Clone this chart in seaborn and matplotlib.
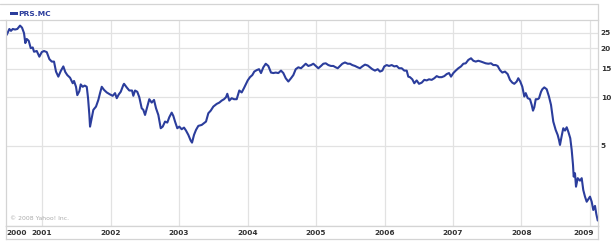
import numpy as np
import pandas as pd
import seaborn as sns
import matplotlib
matplotlib.use("Agg")
import matplotlib.pyplot as plt
from matplotlib.lines import Line2D
from matplotlib.patches import Rectangle

# ---- data (decimal year, price) ----
t = [2000.485, 2000.523, 2000.547, 2000.572, 2000.606, 2000.639, 2000.679, 2000.708, 2000.737, 2000.756,
     2000.777, 2000.806, 2000.835, 2000.864, 2000.883, 2000.923, 2000.961, 2000.996, 2001.029, 2001.069,
     2001.107, 2001.142, 2001.175, 2001.204, 2001.238, 2001.273, 2001.311, 2001.340, 2001.369, 2001.409,
     2001.448, 2001.467, 2001.496, 2001.515, 2001.545, 2001.565, 2001.594, 2001.623, 2001.653, 2001.672,
     2001.691, 2001.701, 2001.726, 2001.749, 2001.788, 2001.822, 2001.847, 2001.872, 2001.905, 2001.945,
     2001.993, 2002.032, 2002.066, 2002.091, 2002.120, 2002.149, 2002.187, 2002.197, 2002.236, 2002.274,
     2002.314, 2002.333, 2002.358, 2002.391, 2002.420, 2002.455, 2002.479, 2002.504, 2002.537, 2002.566,
     2002.601, 2002.635, 2002.664, 2002.698, 2002.733, 2002.762, 2002.796, 2002.829, 2002.858, 2002.893,
     2002.917, 2002.942, 2002.975, 2003.004, 2003.039, 2003.073, 2003.102, 2003.136, 2003.171, 2003.190,
     2003.219, 2003.248, 2003.282, 2003.331, 2003.365, 2003.394, 2003.428, 2003.463, 2003.501, 2003.550,
     2003.588, 2003.623, 2003.657, 2003.686, 2003.705, 2003.734, 2003.769, 2003.803, 2003.842, 2003.880,
     2003.915, 2003.949, 2004.003, 2004.036, 2004.070, 2004.099, 2004.134, 2004.168, 2004.197, 2004.231,
     2004.266, 2004.304, 2004.343, 2004.377, 2004.412, 2004.450, 2004.489, 2004.523, 2004.558, 2004.596,
     2004.635, 2004.669, 2004.704, 2004.742, 2004.781, 2004.815, 2004.850, 2004.888, 2004.927, 2004.961,
     2004.996, 2005.034, 2005.073, 2005.107, 2005.142, 2005.180, 2005.219, 2005.253, 2005.288, 2005.317,
     2005.350, 2005.384, 2005.423, 2005.463, 2005.496, 2005.530, 2005.569, 2005.609, 2005.642, 2005.676,
     2005.715, 2005.755, 2005.788, 2005.822, 2005.861, 2005.901, 2005.934, 2005.968, 2005.997, 2006.032,
     2006.066, 2006.105, 2006.143, 2006.178, 2006.212, 2006.251, 2006.289, 2006.324, 2006.347, 2006.372,
     2006.406, 2006.435, 2006.470, 2006.504, 2006.543, 2006.581, 2006.616, 2006.650, 2006.689, 2006.727,
     2006.762, 2006.796, 2006.835, 2006.873, 2006.908, 2006.942, 2006.971, 2007.005, 2007.040, 2007.078,
     2007.117, 2007.151, 2007.186, 2007.224, 2007.263, 2007.297, 2007.332, 2007.369, 2007.409, 2007.442,
     2007.477, 2007.515, 2007.555, 2007.588, 2007.623, 2007.652, 2007.686, 2007.720, 2007.759, 2007.798,
     2007.832, 2007.866, 2007.895, 2007.930, 2007.953, 2007.982, 2008.012, 2008.041, 2008.062, 2008.091,
     2008.124, 2008.149, 2008.168, 2008.187, 2008.208, 2008.237, 2008.256, 2008.285, 2008.304, 2008.333,
     2008.368, 2008.401, 2008.431, 2008.464, 2008.499, 2008.528, 2008.547, 2008.562, 2008.587, 2008.610,
     2008.635, 2008.660, 2008.683, 2008.712, 2008.733, 2008.752, 2008.762, 2008.781, 2008.796, 2008.821,
     2008.854, 2008.879, 2008.902, 2008.927, 2008.952, 2008.975, 2009.000, 2009.025, 2009.048, 2009.073,
     2009.092, 2009.113]

price = [24.3, 26.4, 25.7, 26.4, 26.2, 26.4, 27.7, 26.9, 24.9, 21.6,
         22.9, 22.3, 20.1, 20.3, 19.1, 19.3, 17.8, 19.0, 19.3, 19.0,
         17.2, 16.6, 16.6, 14.4, 13.4, 14.5, 15.5, 14.3, 13.7, 13.2,
         12.2, 12.6, 11.6, 10.3, 10.9, 12.0, 11.6, 11.8, 11.6, 9.86,
         7.77, 6.58, 7.42, 8.35, 8.75, 9.62, 10.6, 11.6, 11.1, 10.7,
         10.4, 10.2, 10.6, 9.86, 10.4, 10.8, 11.9, 12.1, 11.5, 11.0,
         11.0, 10.2, 11.0, 10.8, 10.0, 8.55, 8.35, 7.77, 8.75, 9.72,
         9.26, 9.62, 8.55, 7.77, 6.43, 6.58, 7.07, 6.97, 7.52, 8.03,
         7.66, 7.07, 6.43, 6.58, 6.34, 6.49, 6.22, 5.85, 5.39, 5.24,
         5.85, 6.28, 6.65, 6.74, 6.91, 7.07, 7.96, 8.26, 8.75, 9.09,
         9.26, 9.53, 9.72, 10.0, 10.5, 9.53, 9.86, 9.72, 9.72, 11.0,
         10.7, 11.4, 12.7, 13.3, 13.7, 14.4, 14.7, 14.9, 14.1, 15.3,
         16.1, 15.6, 14.2, 14.1, 14.2, 14.1, 14.6, 14.1, 13.1, 12.5,
         13.1, 13.7, 14.9, 15.3, 15.1, 15.6, 16.1, 15.6, 15.8, 16.1,
         15.6, 15.1, 15.6, 16.1, 16.2, 15.8, 15.6, 15.6, 15.3, 15.1,
         15.6, 16.1, 16.4, 16.1, 16.1, 15.8, 15.6, 15.3, 15.1, 15.5,
         15.9, 15.7, 15.3, 14.9, 14.6, 14.9, 14.4, 14.6, 15.5, 15.8,
         15.6, 15.8, 15.5, 15.6, 15.1, 15.1, 14.6, 14.6, 13.4, 13.3,
         12.9, 12.2, 12.7, 12.1, 12.3, 12.8, 12.7, 12.9, 12.8, 13.1,
         13.5, 13.3, 13.3, 13.5, 13.9, 14.1, 13.4, 14.1, 14.6, 15.1,
         15.5, 16.1, 16.2, 17.0, 17.4, 16.8, 16.6, 16.8, 16.6, 16.4,
         16.2, 16.1, 16.2, 15.8, 15.8, 15.6, 14.7, 14.2, 14.4, 13.9,
         12.8, 12.3, 12.1, 12.5, 13.1, 12.5, 11.6, 10.1, 10.6, 9.86,
         9.72, 8.96, 8.26, 8.67, 9.72, 9.72, 9.86, 10.8, 11.2, 11.5,
         11.2, 10.1, 8.96, 7.07, 6.28, 5.85, 5.45, 5.07, 5.77, 6.43,
         6.22, 6.52, 6.13, 5.58, 4.72, 3.82, 3.23, 3.39, 2.80, 3.16,
         3.05, 3.16, 2.67, 2.43, 2.26, 2.34, 2.43, 2.26, 2.01, 2.13,
         1.90, 1.73]

year_ticks = [2001, 2002, 2003, 2004, 2005, 2006, 2007, 2008, 2009]
price_ticks = [5, 10, 15, 20, 25]
series_name = "PRS.MC"

df = pd.DataFrame({"t": t, "price": price})

# ---- figure & layout ----
sns.set_style("white")
plt.rcParams["font.family"] = ["DejaVu Sans"]
W, H = 615, 248
fig = plt.figure(figsize=(W / 100, H / 100), dpi=100)
fig.patch.set_facecolor("white")

def fx(px):
    return px / W

def fy(py):
    return 1 - py / H

L, R, T, B = 6, 598, 20, 226
ax = fig.add_axes([fx(L), fy(B), fx(R - L), (B - T) / H])

grid_c = "#e2e2e2"
border_c = "#d4d4d4"
line_c = "#2b3d9c"
text_c = "#333333"

sns.lineplot(data=df, x="t", y="price", ax=ax, color=line_c, linewidth=1.5,
             estimator=None, sort=False, legend=False)

ax.set_yscale("log")
ax.set_ylim(1.60, 30.0)
ax.set_xlim(2000.474, 2009.117)
ax.minorticks_off()
ax.set_yticks(price_ticks)
ax.set_yticklabels([str(v) for v in price_ticks])
ax.set_xticks(year_ticks)
ax.set_xticklabels([])
ax.yaxis.tick_right()
ax.tick_params(axis="y", length=0, pad=2, labelsize=5.3, labelcolor=text_c)
for lab in ax.get_yticklabels():
    lab.set_fontweight("bold")
ax.tick_params(axis="x", length=0)
ax.grid(True, which="major", color=grid_c, linewidth=0.9)
ax.set_xlabel("")
ax.set_ylabel("")
for s in ax.spines.values():
    s.set_color(border_c)
    s.set_linewidth(0.9)

ax.text(0.007, 0.025, "\u00a9 2008 Yahoo! Inc.", transform=ax.transAxes,
        fontsize=4.4, color="#aaaaaa", ha="left", va="bottom")

# ---- year strip ----
sax = fig.add_axes([fx(L), fy(239), fx(R - L), (239 - B) / H], sharex=ax)
sax.set_yticks([])
sax.tick_params(axis="x", length=0, labelbottom=False)
for s in sax.spines.values():
    s.set_color(border_c)
    s.set_linewidth(0.9)
sax.set_facecolor("white")
for yr in year_ticks:
    if yr == year_ticks[-1]:
        sax.text(yr - 0.09, 0.45, str(yr), ha="center", va="center",
                 fontsize=5.3, fontweight="bold", color=text_c,
                 transform=sax.get_xaxis_transform())
    else:
        sax.text(yr, 0.45, str(yr), ha="center", va="center",
                 fontsize=5.3, fontweight="bold", color=text_c,
                 transform=sax.get_xaxis_transform())
sax.text(0.001, 0.45, "2000", ha="left", va="center", fontsize=5.3,
         fontweight="bold", color=text_c, transform=sax.transAxes)

# ---- header / legend area ----
fig.add_artist(Line2D([fx(0), fx(R)], [fy(4), fy(4)], color=border_c, linewidth=0.9))
fig.add_artist(Line2D([fx(0), fx(L)], [fy(T), fy(T)], color=border_c, linewidth=0.9))
fig.add_artist(Line2D([fx(R), fx(R)], [fy(4), fy(T)], color=border_c, linewidth=0.9))
fig.add_artist(Rectangle((fx(10), fy(15)), fx(7.5), 2.8 / H, color=line_c, linewidth=0))
fig.text(fx(18.5), fy(13.6), series_name, fontsize=5.4, fontweight="bold",
         color=line_c, ha="left", va="center")

fig.savefig("out.png", dpi=100, facecolor="white")
